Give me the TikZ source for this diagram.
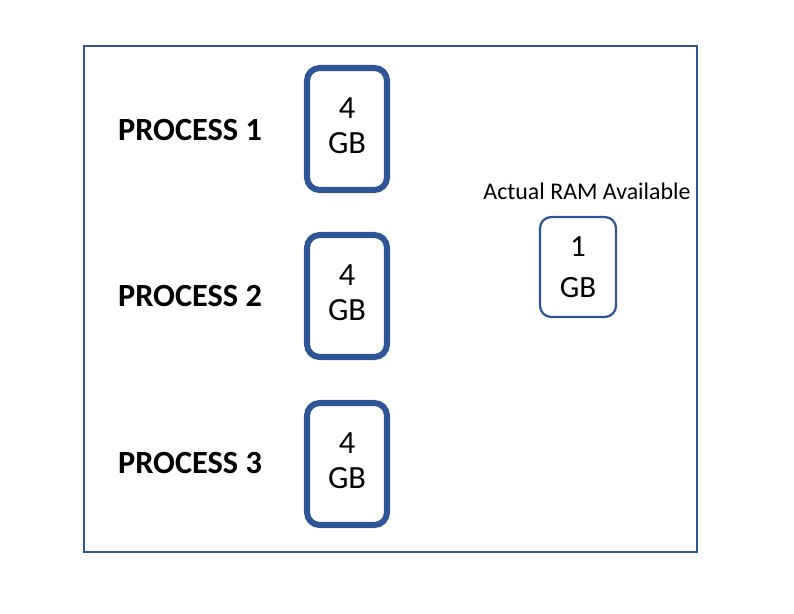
\documentclass[tikz,border=0pt]{standalone}
\usepackage{fontspec}
\setmainfont{Carlito}
\definecolor{ramblue}{HTML}{2F5597}
\tikzset{
  procbox/.style={draw=ramblue, line width=4.3pt, rounded corners=9pt, minimum width=80*0.025cm, minimum height=122*0.025cm, align=center, font=\fontsize{23}{27}\selectfont},
  rambox/.style={draw=ramblue, line width=1.6pt, rounded corners=8pt, minimum width=76*0.025cm, minimum height=100*0.025cm, align=center, font=\fontsize{22}{29}\selectfont},
  proclabel/.style={font=\fontsize{23}{26}\selectfont\bfseries}
}
\begin{document}
\begin{tikzpicture}[x=0.025cm,y=-0.025cm]
        \useasboundingbox (0,0) rectangle (794,613);
        \draw[ramblue, line width=1.4pt] (84,46) rectangle (697,552);
        % processes
        \node[proclabel] (p1) at (190,130) {PROCESS 1};
        \node[proclabel] (p2) at (190,296) {PROCESS 2};
        \node[proclabel] (p3) at (190,463) {PROCESS 3};
        \node[procbox] (m1) at (347,129) {\raisebox{5pt}{\shortstack{4\\[7pt]GB}}};
        \node[procbox] (m2) at (347,296) {\raisebox{5pt}{\shortstack{4\\[7pt]GB}}};
        \node[procbox] (m3) at (347,464) {\raisebox{5pt}{\shortstack{4\\[7pt]GB}}};
        % real memory
        \node[font=\fontsize{17}{20}\selectfont] (ramlabel) at (587,191) {Actual RAM Available};
        \node[rambox] (ram) at (578,267) {1\\GB};
    \end{tikzpicture}
\end{document}
